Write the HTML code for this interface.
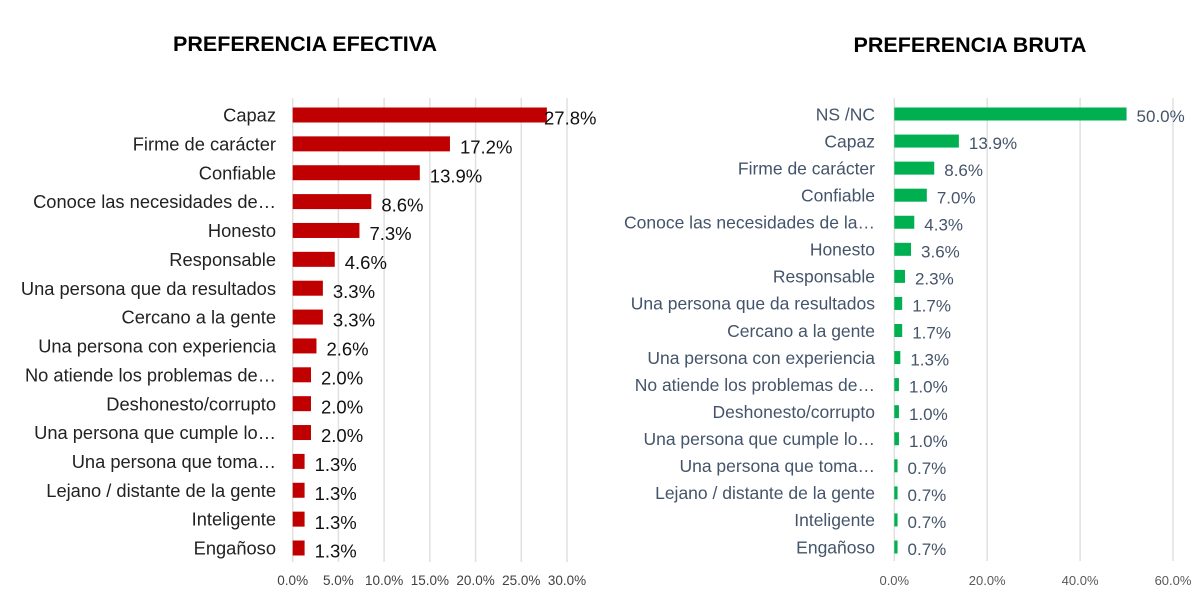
<!DOCTYPE html>
<html><head><meta charset="utf-8"><style>
body{margin:0;background:#fff;width:1204px;height:608px;overflow:hidden;font-family:"Liberation Sans",Arial,sans-serif}
</style></head><body>
<svg id="svg" width="1204" height="608">
<text x="305" y="51" text-anchor="middle" font-size="21.5" font-weight="bold" fill="#000">PREFERENCIA EFECTIVA</text>
<text x="970" y="52" text-anchor="middle" font-size="21.5" font-weight="bold" fill="#000">PREFERENCIA BRUTA</text>
<g id="left"></g>
<g id="right"></g>
</svg>
<script>
const leftCats=["Capaz","Firme de carácter","Confiable","Conoce las necesidades de…","Honesto","Responsable","Una persona que da resultados","Cercano a la gente","Una persona con experiencia","No atiende los problemas de…","Deshonesto/corrupto","Una persona que cumple lo…","Una persona que toma…","Lejano / distante de la gente","Inteligente","Engañoso"];
const leftVals=[27.8,17.2,13.9,8.6,7.3,4.6,3.3,3.3,2.6,2.0,2.0,2.0,1.3,1.3,1.3,1.3];
const leftTicks=[0,5,10,15,20,25,30];
const rightCats=["NS /NC","Capaz","Firme de carácter","Confiable","Conoce las necesidades de la…","Honesto","Responsable","Una persona que da resultados","Cercano a la gente","Una persona con experiencia","No atiende los problemas de…","Deshonesto/corrupto","Una persona que cumple lo…","Una persona que toma…","Lejano / distante de la gente","Inteligente","Engañoso"];
const rightVals=[50.0,13.9,8.6,7.0,4.3,3.6,2.3,1.7,1.7,1.3,1.0,1.0,1.0,0.7,0.7,0.7,0.7];
const rightTicks=[0,20,40,60];
const NS="http://www.w3.org/2000/svg";
function mk(p,t,a){const e=document.createElementNS(NS,t);for(const k in a)e.setAttribute(k,a[k]);p.appendChild(e);return e;}
function draw(g,cats,vals,ticks,o){
  const x=v=>o.x0+(v-ticks[0])/(ticks[ticks.length-1]-ticks[0])*(o.x1-o.x0);
  const step=(o.yLast-o.yFirst)/(cats.length-1);
  const y=i=>o.yFirst+i*step;
  ticks.forEach(t=>{
    const l=mk(g,'line',{x1:x(t),x2:x(t),y1:o.gTop,y2:o.gBot,stroke:'#e0e0e0','stroke-width':1.5});
    
    
    const tx=mk(g,'text',{x:x(t),y:o.tickY,'text-anchor':'middle','font-size':o.tickFs,fill:o.tickFill,'font-family':o.font});
    tx.textContent=t.toFixed(1)+'%';
    
    
  });
  cats.forEach((c,i)=>{
    const b=mk(g,'rect',{x:x(0),y:y(i)-o.bh/2,width:Math.max(0,x(vals[i])-x(0)),height:o.bh,fill:o.color});
    
    
    const lb=mk(g,'text',{x:o.labelX,y:y(i)+o.fs*0.36,'text-anchor':'end','font-size':o.fs,fill:o.labelFill,'font-family':o.font});
    lb.textContent=c;
    
    
    const vl=mk(g,'text',{x:Math.min(x(vals[i])+o.vgap,o.maxVX),y:y(i)+o.vfs*0.36+o.voff,'font-size':o.vfs,fill:o.valFill,'font-family':o.font});
    vl.textContent=vals[i].toFixed(1)+'%';
    
    
  });
}
draw(document.getElementById('left'),leftCats,leftVals,leftTicks,{x0:292.7,x1:567,yFirst:115,yLast:548,bh:15,color:'#c00000',gTop:98,gBot:562,tickY:585,tickFs:13.5,tickFill:'#404040',labelX:276,fs:18.3,labelFill:'#222',vgap:10,maxVX:544,vfs:18.5,valFill:'#111',voff:3,font:'"Liberation Sans",Arial,sans-serif'});
draw(document.getElementById('right'),rightCats,rightVals,rightTicks,{x0:894.3,x1:1173,yFirst:114,yLast:547,bh:13,color:'#00b050',gTop:98,gBot:561,tickY:585,tickFs:13,tickFill:'#595959',labelX:875,fs:17.5,labelFill:'#44546a',vgap:10,maxVX:2000,vfs:17,valFill:'#44546a',voff:2,font:'"Liberation Sans",Arial,sans-serif'});
</script>
</body></html>
